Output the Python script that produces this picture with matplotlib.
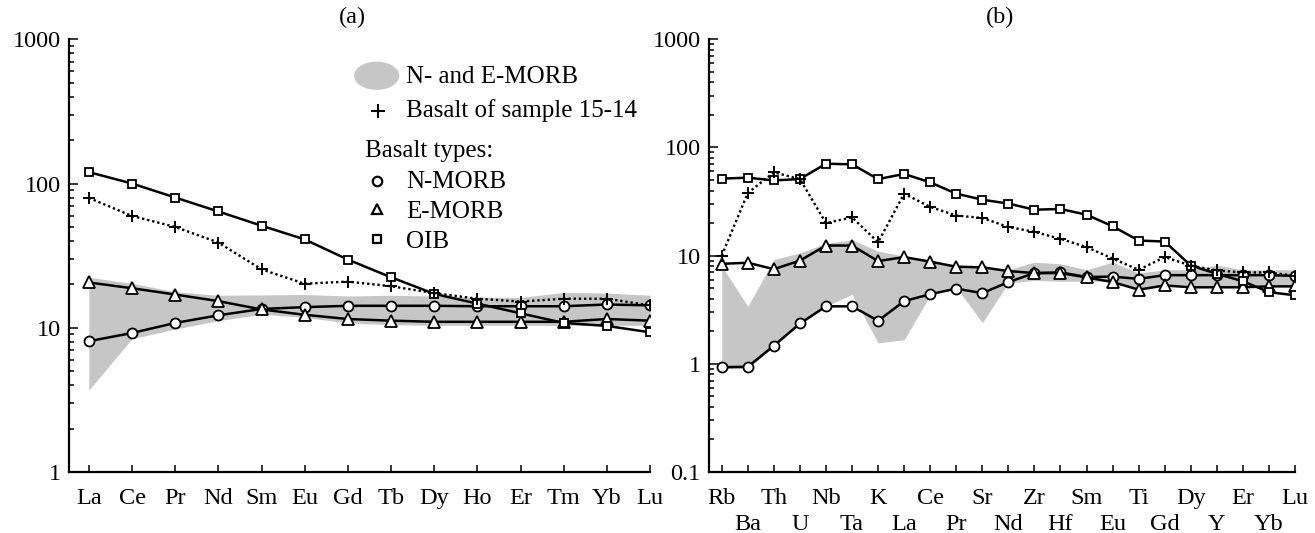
import matplotlib
matplotlib.use('Agg')
import matplotlib.pyplot as plt
from matplotlib.ticker import LogLocator, NullFormatter
from matplotlib.patches import Ellipse

plt.rcParams['font.family'] = ['Liberation Serif', 'DejaVu Serif']

# ---------------- data: panel (a) chondrite-normalized REE ----------------
ree = ['La', 'Ce', 'Pr', 'Nd', 'Sm', 'Eu', 'Gd', 'Tb', 'Dy', 'Ho', 'Er', 'Tm', 'Yb', 'Lu']
oib_a = [120, 100, 80, 64, 51, 41, 29.7, 22.4, 17.2, 14.7, 12.6, 10.8, 10.3, 9.3]
sample_a = [79.5, 59.6, 50, 39, 25.4, 20.2, 20.9, 19.4, 17.4, 15.9, 15.2, 15.9, 15.9, 14.3]
nmorb_a = [8.07, 9.2, 10.8, 12.2, 13.5, 13.9, 14.2, 14.2, 14.2, 14.1, 14.1, 14.1, 14.5, 14.3]
emorb_a = [20.6, 18.8, 17.0, 15.3, 13.4, 12.3, 11.5, 11.2, 11.0, 11.0, 11.0, 11.0, 11.5, 11.2]
band_a_hi = [22.4, 20.3, 17.8, 16.8, 16.9, 17.0, 16.6, 16.8, 16.6, 16.3, 16.2, 17.6, 17.4, 16.8]
band_a_lo = [3.7, 8.4, 9.8, 11.2, 12.4, 11.8, 10.8, 10.5, 10.4, 10.4, 10.4, 10.4, 10.4, 10.4]

# ---------------- data: panel (b) primitive-mantle-normalized ----------------
elems = ['Rb', 'Ba', 'Th', 'U', 'Nb', 'Ta', 'K', 'La', 'Ce', 'Pr', 'Sr', 'Nd',
         'Zr', 'Hf', 'Sm', 'Eu', 'Ti', 'Gd', 'Dy', 'Y', 'Er', 'Yb', 'Lu']
oib_b = [51.5, 52.6, 49.6, 51.1, 70.8, 69.8, 51, 56.9, 47.6, 37.4, 32.9, 30.3,
         26.6, 27, 23.9, 18.7, 13.8, 13.5, 8.1, 6.8, 5.8, 4.6, 4.3]
sample_b = [10, 38, 58.9, 51, 20, 22.6, 13.3, 37.4, 28.2, 23.5, 22.3, 18.4,
            16.6, 14.3, 12.0, 9.4, 7.4, 9.7, 8.1, 7.3, 7.0, 7.0, 6.5]
nmorb_b = [0.93, 0.94, 1.47, 2.36, 3.4, 3.4, 2.5, 3.8, 4.4, 4.96, 4.5, 5.7,
           6.9, 7.0, 6.35, 6.4, 6.1, 6.6, 6.6, 6.6, 6.6, 6.6, 6.5]
emorb_b = [8.4, 8.6, 7.5, 9.0, 12.4, 12.4, 8.9, 9.7, 8.8, 7.9, 7.8, 7.2,
           6.9, 6.9, 6.3, 5.7, 4.85, 5.3, 5.1, 5.1, 5.1, 5.2, 5.2]
band_b_hi = [8.0, 3.4, 9.2, 10.6, 13.0, 14.0, 11.0, 9.9, 8.6, 8.0, 8.0, 7.4,
             8.7, 8.4, 7.4, 8.7, 6.9, 7.4, 7.4, 8.2, 7.4, 7.4, 7.4]
band_b_lo = [0.9, 0.9, 1.45, 2.3, 3.4, 4.4, 1.56, 1.67, 4.3, 5.1, 2.4, 5.6,
             5.9, 5.8, 5.8, 5.8, 5.0, 5.4, 5.3, 5.2, 5.2, 5.2, 5.2]

W, H = 1315, 533
fig = plt.figure(figsize=(W / 100, H / 100), dpi=100)
axa = fig.add_axes([69 / W, 61 / H, 581 / W, 432.7 / H])
axb = fig.add_axes([709 / W, 61 / H, 586 / W, 432.7 / H])

GRAY = '#c6c6c6'
LW = 1.8
TICKFS = 17.5
XPAD = 11.5


def draw(ax, x, hi, lo, nm, em, oib, smp):
    ax.fill_between(x, lo, hi, color=GRAY, lw=0, zorder=1)
    ax.plot(x, nm, '-', color='k', lw=LW, marker='o', ms=7.2,
            mfc='white', mec='k', mew=1.3, zorder=3)
    ax.plot(x, em, '-', color='k', lw=LW, marker='^', ms=8.0,
            mfc='white', mec='k', mew=1.3, zorder=3)
    ax.plot(x, oib, '-', color='k', lw=LW, marker='s', ms=6.2,
            mfc='white', mec='k', mew=1.3, zorder=3)
    ax.plot(x, smp, linestyle=(0, (1, 1.2)), color='k', lw=1.7, marker='+',
            ms=8.5, mec='k', mew=1.4, zorder=4)
    ax.set_yscale('log')
    for s in ('top', 'right'):
        ax.spines[s].set_visible(False)
    for s in ('left', 'bottom'):
        ax.spines[s].set_linewidth(1.6)
    ax.yaxis.set_minor_locator(LogLocator(base=10, subs=range(2, 10), numticks=20))
    ax.yaxis.set_minor_formatter(NullFormatter())
    ax.tick_params(axis='y', which='major', direction='in', length=6.5, width=1.1,
                   pad=6, labelsize=TICKFS)
    ax.tick_params(axis='y', which='minor', direction='in', length=3.8, width=1.1)
    ax.tick_params(axis='x', which='major', direction='in', length=5, width=1.1,
                   pad=XPAD, labelsize=TICKFS)


xa = list(range(len(ree)))
draw(axa, xa, band_a_hi, band_a_lo, nmorb_a, emorb_a, oib_a, sample_a)
axa.set_xlim(-0.46, len(ree) - 1)
axa.set_ylim(1, 1000)
axa.set_yticks([1, 10, 100, 1000], labels=['1', '10', '100', '1000'])
axa.set_xticks(xa, labels=ree)

xb = list(range(len(elems)))
draw(axb, xb, band_b_hi, band_b_lo, nmorb_b, emorb_b, oib_b, sample_b)
axb.set_xlim(-0.49, len(elems) - 1)
axb.set_ylim(0.1, 1000)
axb.set_yticks([0.1, 1, 10, 100, 1000], labels=['0.1', '1', '10', '100', '1000'])
even = [i for i in xb if i % 2 == 0]
odd = [i for i in xb if i % 2 == 1]
axb.set_xticks(even, labels=[elems[i] for i in even])
axb.set_xticks(odd, labels=[elems[i] for i in odd], minor=True)
axb.tick_params(axis='x', which='minor', direction='in', length=5, width=1.1,
                pad=XPAD + 18.5, labelsize=TICKFS)

# panel titles
fig.text(352 / W, 1 - 17 / H, '(a)', ha='center', va='center', fontsize=TICKFS)
fig.text(1000 / W, 1 - 17 / H, '(b)', ha='center', va='center', fontsize=TICKFS)

# legend (panel a)
LFS = 18
tr = axa.transAxes
axa.add_patch(Ellipse((0.5296, 0.9158), 0.0775, 0.0654, transform=tr,
                      facecolor=GRAY, edgecolor='none', zorder=5, clip_on=False))
axa.plot([0.5318], [0.835], transform=tr, marker='+', ms=9.5, mew=1.5,
         color='k', ls='none', clip_on=False, zorder=5)
axa.plot([0.5296], [0.6734], transform=tr, marker='o', ms=6.8, mew=1.6,
         mfc='white', mec='k', ls='none', clip_on=False, zorder=5)
axa.plot([0.5296], [0.6068], transform=tr, marker='^', ms=7.2, mew=1.6,
         mfc='white', mec='k', ls='none', clip_on=False, zorder=5)
axa.plot([0.5296], [0.5375], transform=tr, marker='s', ms=6.4, mew=1.6,
         mfc='white', mec='k', ls='none', clip_on=False, zorder=5)
tx = 0.580
axa.text(tx, 0.8983, 'N- and E-MORB', transform=tr, fontsize=LFS, va='baseline')
axa.text(tx, 0.8211, 'Basalt of sample 15-14', transform=tr, fontsize=LFS, va='baseline')
axa.text(0.5095, 0.7287, 'Basalt types:', transform=tr, fontsize=LFS, va='baseline')
axa.text(tx, 0.6557, 'N-MORB', transform=tr, fontsize=LFS, va='baseline')
axa.text(tx, 0.5863, 'E-MORB', transform=tr, fontsize=LFS, va='baseline')
axa.text(tx, 0.5170, 'OIB', transform=tr, fontsize=LFS, va='baseline')

fig.savefig('out.png', dpi=100)
